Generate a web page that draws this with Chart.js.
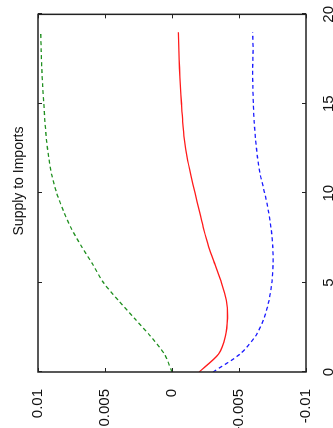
<!DOCTYPE html>
<html>
<head>
<meta charset="utf-8">
<script src="https://cdn.jsdelivr.net/npm/chart.js@4/dist/chart.umd.min.js"></script>
<style>
  html, body { margin: 0; padding: 0; background: #fff; overflow: hidden; }
  body { width: 333px; height: 428px; position: relative; }
  /* o gráfico é desenhado deitado e depois girado 90 graus */
  #wrap {
    position: absolute; left: 0; top: 428px;
    width: 428px; height: 333px;
    transform-origin: 0 0; transform: rotate(-90deg);
  }
</style>
</head>
<body>
<div id="wrap"><canvas id="irfChart" width="428" height="333"></canvas></div>
<script>
// Horizontes (eixo x)
const horizons = [0,1,2,3,4,5,6,7,8,9,10,11,12,13,14,15,16,17,18,19];

// Séries
const redSolid = [-0.00202,-0.00347,-0.00399,-0.00414,-0.00405,-0.00369,-0.00321,-0.00274,-0.00236,-0.00204,
                  -0.00172,-0.00141,-0.00113,-0.00093,-0.00080,-0.00071,-0.00063,-0.00056,-0.00051,-0.00047];
const blueDashed = [-0.00306,-0.00507,-0.00623,-0.00687,-0.00724,-0.00745,-0.00754,-0.00752,-0.00740,-0.00720,
                    -0.00692,-0.00660,-0.00638,-0.00624,-0.00613,-0.00607,-0.00603,-0.00602,-0.00605,-0.00602];
const greenDashed = [0,0.00056,0.0016,0.0028,0.0040,0.00512,0.00590,0.00673,0.00750,0.00810,
                     0.00860,0.00897,0.00920,0.00937,0.00948,0.00957,0.00965,0.00972,0.00976,0.0098];

// Rótulos dos ticks
const xTicks = [0,5,10,15,20];
const yTicks = [0.01,0.005,0,-0.005,-0.01];
const yTickLabels = ['0.01','0.005','0','-0.005','-0.01'];
const titleText = 'Supply to Imports';

const FONT = '"Liberation Sans", Arial, Helvetica, sans-serif';

function toPoints(vals){
    return horizons.map((h, i) => ({ x: h, y: vals[i] }));
}

// Caixa em volta do gráfico com ticks para dentro (estilo MATLAB)
const boxPlugin = {
    id: 'matlabBox',
    afterDatasetsDraw(chart){
        const { ctx, chartArea: a, scales } = chart;
        const tl = 4;
        ctx.save();
        ctx.strokeStyle = '#222';
        ctx.lineWidth = 1.5;
        ctx.strokeRect(a.left, a.top, a.right - a.left, a.bottom - a.top);
        ctx.lineWidth = 1;
        ctx.beginPath();
        xTicks.forEach(t => {
            const px = Math.round(scales.x.getPixelForValue(t)) + 0.5;
            ctx.moveTo(px, a.bottom); ctx.lineTo(px, a.bottom - tl);
            ctx.moveTo(px, a.top); ctx.lineTo(px, a.top + tl);
        });
        yTicks.forEach(t => {
            const py = Math.round(scales.y.getPixelForValue(t)) + 0.5;
            ctx.moveTo(a.left, py); ctx.lineTo(a.left + tl, py);
            ctx.moveTo(a.right, py); ctx.lineTo(a.right - tl, py);
        });
        ctx.stroke();
        ctx.restore();
    },
    afterDraw(chart){
        // título
        const { ctx } = chart;
        ctx.save();
        ctx.fillStyle = '#111';
        ctx.font = '14px ' + FONT;
        ctx.textAlign = 'center';
        ctx.textBaseline = 'middle';
        ctx.fillText(titleText, 247, 19);
        ctx.restore();
    }
};

const ctx = document.getElementById('irfChart').getContext('2d');
new Chart(ctx, {
    type: 'line',
    data: {
        datasets: [
            { data: toPoints(redSolid), borderColor: '#ff1a1a', borderWidth: 1.3 },
            { data: toPoints(blueDashed), borderColor: '#1a1aff', borderWidth: 1.3, borderDash: [4, 3] },
            { data: toPoints(greenDashed), borderColor: '#1f8f1f', borderWidth: 1.3, borderDash: [4, 3] }
        ]
    },
    options: {
        responsive: false,
        animation: false,
        devicePixelRatio: 1,
        layout: { padding: { left: 0, right: 14, top: 38, bottom: 0 } },
        elements: { point: { radius: 0 }, line: { tension: 0.25, fill: false } },
        plugins: { legend: { display: false }, tooltip: { enabled: false }, title: { display: false } },
        scales: {
            x: {
                type: 'linear', min: 0, max: 20,
                grid: { display: false }, border: { display: false },
                afterBuildTicks: s => { s.ticks = xTicks.map(v => ({ value: v })); },
                ticks: { color: '#111', padding: 6, maxRotation: 0, font: { family: FONT, size: 15 } },
                afterFit: s => { s.height = 27; }
            },
            y: {
                type: 'linear', min: -0.01, max: 0.01,
                grid: { display: false }, border: { display: false },
                afterBuildTicks: s => { s.ticks = yTicks.map(v => ({ value: v })); },
                ticks: {
                    color: '#111', padding: 9, font: { family: FONT, size: 15 },
                    callback: v => yTickLabels[yTicks.indexOf(v)] ?? ''
                },
                afterFit: s => { s.width = 56; }
            }
        }
    },
    plugins: [boxPlugin]
});
</script>
</body>
</html>
